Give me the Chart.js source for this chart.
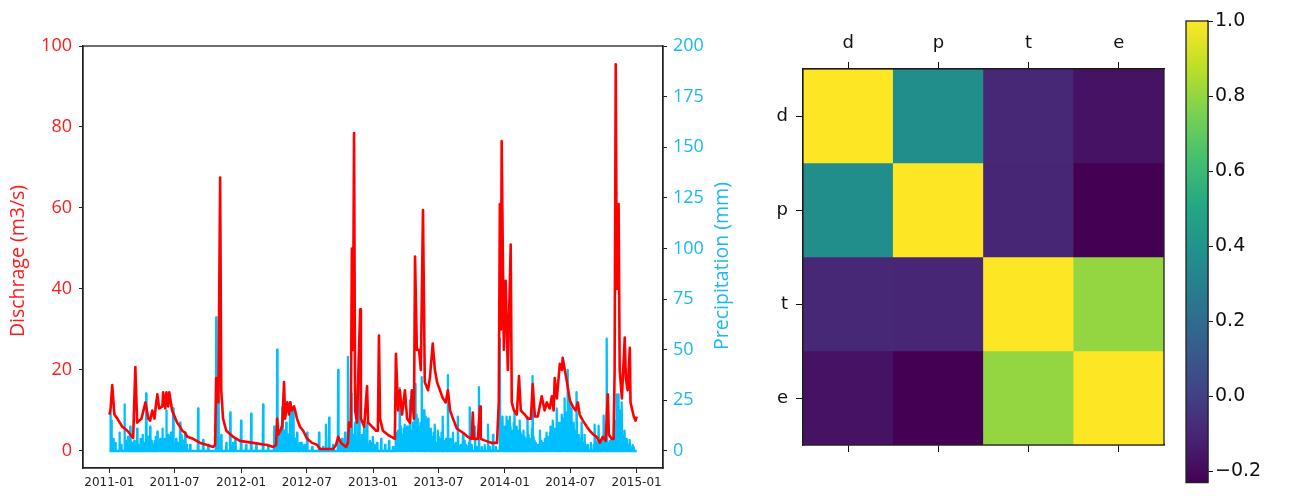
<!DOCTYPE html>
<html>
<head>
<meta charset="utf-8">
<script src="https://cdn.jsdelivr.net/npm/chart.js@4.4.1/dist/chart.umd.min.js"></script>
<style>
  body { margin: 0; background: #fff; width: 1309px; height: 496px; position: relative; overflow: hidden; }
  canvas { position: absolute; top: 0; }
  #tsChart { left: 0; }
  #hmChart { left: 760px; }
  #cbChart { left: 1180px; }
</style>
</head>
<body>
<canvas id="tsChart" width="760" height="496"></canvas>
<canvas id="hmChart" width="420" height="496"></canvas>
<canvas id="cbChart" width="129" height="496"></canvas>
<script>
// days are counted from 2011-01-01
const tickDays = [0, 181, 365, 547, 731, 912, 1096, 1277, 1461];
const tickLabels = ["2011-01", "2011-07", "2012-01", "2012-07", "2013-01", "2013-07", "2014-01", "2014-07", "2015-01"];
const leftTicks = [0, 20, 40, 60, 80, 100];
const rightTicks = [0, 25, 50, 75, 100, 125, 150, 175, 200];

// discharge (m3/s)
const dischargeDays = [0, 3, 8, 14, 22, 36, 50, 66, 72, 77, 89, 100, 108, 113, 119, 125, 130, 133, 138, 147, 149, 155, 158, 163, 166,
  174, 183, 188, 196, 202, 210, 216, 232, 252, 271, 288, 293, 296, 302, 307, 310, 315, 324, 343, 362, 398, 437, 454, 462, 465,
  468, 479, 484, 487, 493, 498, 501, 506, 512, 520, 528, 537, 548, 562, 576, 584, 620, 628, 634, 642, 656, 661, 664, 669, 672,
  675, 678, 681, 686, 695, 697, 706, 714, 717, 728, 739, 744, 747, 750, 758, 772, 791, 794, 800, 805, 811, 819, 825, 833, 838,
  844, 847, 852, 858, 863, 869, 874, 883, 888, 896, 902, 908, 916, 924, 932, 938, 944, 952, 963, 980, 993, 1004, 1007, 1010,
  1021, 1027, 1029, 1043, 1060, 1074, 1079, 1082, 1085, 1087, 1093, 1098, 1104, 1112, 1115, 1121, 1129, 1135, 1140, 1151,
  1159, 1168, 1173, 1179, 1187, 1198, 1206, 1212, 1220, 1226, 1231, 1234, 1240, 1248, 1254, 1256, 1262, 1267, 1276, 1284,
  1292, 1298, 1303, 1312, 1323, 1331, 1342, 1350, 1359, 1367, 1375, 1381, 1384, 1392, 1397, 1400, 1403, 1406, 1411, 1414,
  1420, 1428, 1431, 1436, 1442, 1444, 1453, 1458, 1461];
const dischargeVals = [9, 10, 16.3, 9, 8, 6, 5, 3.2, 20.7, 7, 8, 12, 8, 7.5, 10, 8, 12, 14, 10.5, 11, 14.5, 10.5, 14.5, 11, 14.5,
  10, 8, 7, 6, 5, 4.5, 3.5, 3, 2, 1.5, 1, 1.5, 18, 12, 67.5, 15, 8, 5, 3.5, 2.5, 2, 1.5, 1, 1.5, 8,
  4, 6, 17, 8, 12, 9, 12, 10, 11, 8, 6, 5, 3, 2, 1.5, 0.5, 0.5, 1.5, 3.5, 2, 1, 2, 7, 6, 50,
  25, 78.5, 10, 7, 35, 8, 6, 16, 7, 6, 5, 5, 28.5, 8, 5, 4, 3, 24, 10, 15, 9, 15, 8, 7, 15,
  8, 48, 25, 25, 20, 59.5, 17, 15, 18, 26.5, 20, 17, 15, 13, 12, 15, 10, 8, 5.5, 4.5, 3.5, 3, 9.5, 3,
  3, 11, 3, 2.5, 2, 2, 12, 61, 30, 76.5, 25, 42, 20, 51, 12, 10, 9, 18.5, 10, 9,
  8, 8, 16.5, 8.5, 8.5, 13.5, 10, 12, 10.5, 13.5, 10, 18, 13, 21.5, 20, 23, 20, 17.5, 12.5, 11,
  10, 12, 9, 7.5, 6, 5, 4, 3.5, 2, 3.5, 2.5, 14, 4, 3, 3, 20, 95.5, 40, 61, 20,
  13, 28, 18, 15, 25.5, 12, 8.5, 7.5, 8.5];

// precipitation (mm), rainy days only; sorted by day below
const rainDays = [3, 6, 28, 42, 58, 69, 77, 86, 102, 108, 113, 125, 133, 141, 147, 158, 163, 177, 185, 196, 205, 210, 224, 246,
  260, 274, 296, 302, 310, 324, 335, 343, 349, 365, 379, 393, 407, 426, 440, 457, 465, 470, 479, 484, 490, 495, 501, 506, 509,
  515, 520, 528, 540, 548, 562, 581, 592, 600, 609, 620, 634, 642, 653, 661, 667, 672, 681, 692, 700, 706, 714, 722, 730, 742,
  753, 764, 775, 786, 797, 805, 811, 819, 825, 833, 838, 847, 852, 858, 866, 872, 876, 883, 888, 896, 902, 910, 916, 924, 930,
  938, 944, 952, 960, 966, 974, 980, 988, 999, 1004, 1013, 1018, 1024, 1032, 1040, 1049, 1054, 1063, 1071, 1082, 1085, 1090,
  1096, 1101, 1107, 1110, 1115, 1123, 1129, 1137, 1143, 1148, 1154, 1159, 1165, 1173, 1179, 1184, 1193, 1198, 1204, 1212,
  1218, 1223, 1229, 1234, 1240, 1245, 1248, 1254, 1262, 1267, 1270, 1276, 1281, 1287, 1295, 1301, 1309, 1317, 1326, 1334,
  1345, 1350, 1356, 1361, 1370, 1378, 1384, 1392, 1400, 1406, 1411, 1417, 1420, 1428, 1436, 1442, 1447, 1453,
  // smaller showers in the wet spells
  12, 17, 33, 47, 52, 63, 81, 92, 96, 117, 121, 128, 137, 151, 154, 168, 171, 190, 200, 215,
  473, 476, 482, 487, 492, 498, 504, 512, 518, 524, 532,
  645, 657, 664, 670, 675, 678, 684, 688, 695, 703, 710, 718, 726, 735,
  793, 800, 803, 808, 814, 816, 822, 828, 830, 836, 841, 844, 850, 855, 861, 863, 869, 879, 886, 891, 893, 899, 905, 913,
  919, 921, 927, 933, 941, 947, 955, 963, 970, 977, 984, 992, 996,
  1088, 1093, 1099, 1104, 1112, 1118, 1121, 1126, 1132, 1134, 1140, 1146, 1151, 1157, 1162, 1168, 1171, 1176, 1182, 1188,
  1196, 1201, 1207, 1210, 1215, 1221, 1226, 1232, 1237, 1243, 1251, 1257, 1260, 1265, 1273, 1279, 1284, 1290, 1293, 1298,
  1304, 1307, 1312, 1315, 1320,
  1342, 1348, 1353, 1359, 1364, 1367, 1374, 1381, 1387, 1390, 1395, 1398, 1403, 1409, 1414, 1423, 1426, 1431, 1434, 1439, 1450];
const rainVals = [19, 15, 9, 23, 12, 5, 11, 6, 28.5, 7, 12, 5, 9.5, 6, 11, 20, 8, 21, 6, 14, 5, 9, 3, 21,
  5.5, 3, 66, 37, 8, 4, 19, 4, 6, 15, 3, 18.5, 3, 23, 2, 12, 50, 8, 21.5, 10, 14, 8, 24, 12, 20,
  6, 9, 4, 3, 9, 2, 9, 2, 13, 16.5, 3, 40, 5, 9, 46.5, 12, 28.5, 14, 55, 8, 12, 14, 5, 7, 4,
  6, 3, 5, 2, 9, 31, 8, 13, 12, 25, 10, 33, 18, 12, 36.5, 20, 17, 16, 8, 7, 13, 10, 6, 17, 5,
  37.5, 6, 9, 4, 17, 3, 8, 3, 21.5, 3, 12, 2, 31.5, 2, 3, 13, 2, 8, 2, 55.5, 10, 17,
  12, 17, 14, 17, 10, 20, 12, 15, 8, 10, 6, 17, 5, 37, 5, 3, 10, 2, 4, 9,
  6, 12, 15, 10, 21, 14, 12, 18, 26, 19, 40, 24, 21, 14, 29, 8, 14, 8, 3, 4,
  13, 3, 12.5, 2, 17.5, 55.5, 4, 6, 10, 28, 28, 20, 24, 10, 3, 5.5, 2, 2,
  6, 4, 3, 5, 7, 4, 3, 8, 4, 5, 3, 7, 4, 5, 6, 5, 9, 4, 8, 3,
  6, 12, 5, 9, 5, 7, 6, 4, 5, 3, 4,
  6, 4, 10, 5, 8, 6, 7, 5, 4, 3, 5, 3, 4, 3,
  6, 10, 5, 12, 7, 11, 6, 8, 5, 9, 14, 8, 12, 16, 10, 14, 12, 9, 6, 11, 5, 9, 4, 7,
  5, 9, 3, 6, 4, 5, 3, 4, 2, 3, 5, 2, 4,
  14, 9, 11, 15, 12, 9, 14, 8, 10, 6, 9, 5, 7, 4, 8, 6, 11, 7, 4, 3,
  5, 3, 6, 4, 7, 9, 6, 11, 8, 9, 14, 16, 12, 14, 15, 11, 8, 10, 7, 5,
  6, 3, 4, 2, 3,
  3, 5, 4, 3, 6, 4, 7, 3, 5, 3, 4, 7, 15, 18, 12, 8, 5, 4, 6, 3, 3];

// correlation matrix
const vars = ["d", "p", "t", "e"];
const corr = [
  [1.00, 0.37, -0.09, -0.17],
  [0.37, 1.00, -0.10, -0.23],
  [-0.09, -0.10, 1.00, 0.80],
  [-0.17, -0.23, 0.80, 1.00]
];
const cbMin = -0.23, cbMax = 1.0;
const cbTicks = [-0.2, 0, 0.2, 0.4, 0.6, 0.8, 1.0];

const viridisStops = ["#440154", "#482475", "#414487", "#355f8d", "#2a788e", "#21918c",
  "#22a884", "#44bf70", "#7ad151", "#bddf26", "#fde725"];

const hex = (h) => [1, 3, 5].map((i) => parseInt(h.substr(i, 2), 16));
const viridis = (t) => {
  t = Math.min(1, Math.max(0, t)) * (viridisStops.length - 1);
  const i = Math.min(Math.floor(t), viridisStops.length - 2);
  const f = t - i;
  const a = hex(viridisStops[i]), b = hex(viridisStops[i + 1]);
  const c = a.map((v, k) => Math.round(v + (b[k] - v) * f));
  return `rgb(${c[0]}, ${c[1]}, ${c[2]})`;
};

// box round the plot area, like matplotlib spines
const frame = {
  id: "frame",
  afterDatasetsDraw(chart) {
    const { ctx, chartArea: a } = chart;
    ctx.save();
    ctx.strokeStyle = "#222";
    ctx.lineWidth = 1.3;
    ctx.strokeRect(a.left, a.top, a.right - a.left, a.bottom - a.top);
    ctx.restore();
  },
};

const sans = "'Open Sans', sans-serif";
const dejavu = "'DejaVu Sans', sans-serif";

// both y titles read bottom to top, as matplotlib draws them
const yTitles = {
  id: "yTitles",
  afterDraw(chart) {
    const ctx = chart.ctx;
    const put = (text, x, y, color) => {
      ctx.save();
      ctx.translate(x, y);
      ctx.rotate(-Math.PI / 2);
      ctx.font = "19.5px " + sans;
      ctx.fillStyle = color;
      ctx.textAlign = "center";
      ctx.textBaseline = "middle";
      ctx.fillText(text, 0, 0);
      ctx.restore();
    };
    put("Dischrage (m3/s)", 18, 261, "#ff1a1a");
    put("Precipitation (mm)", 722, 266, "#1ab8f0");
  },
};

const qPts = dischargeDays.map((d, i) => ({ x: d, y: dischargeVals[i] }));
const rain = rainDays.map((d, i) => [d, rainVals[i]]).sort((a, b) => a[0] - b[0]);
const rainPts = [{ x: 0, y: 0 }];
rain.forEach(([d, v]) => {
  rainPts.push({ x: d - 1, y: 0 }, { x: d, y: v }, { x: d + 1, y: 0 });
});
rainPts.push({ x: 1461, y: 0 });

new Chart(document.getElementById("tsChart"), {
  type: "line",
  data: {
    datasets: [
      { data: qPts, yAxisID: "y", borderColor: "#ff0000", borderWidth: 2.6, pointRadius: 0, borderJoinStyle: "round" },
      { data: rainPts, yAxisID: "y1", borderColor: "#00bfff", borderWidth: 2.3, pointRadius: 0, borderJoinStyle: "round" },
    ],
  },
  options: {
    responsive: false,
    animation: false,
    events: [],
    layout: { padding: { top: 46, left: 0, right: 0, bottom: 0 } },
    plugins: { legend: { display: false }, tooltip: { enabled: false } },
    scales: {
      x: {
        type: "linear",
        min: -73,
        max: 1534,
        afterFit: (s) => { s.height = 28; },
        afterBuildTicks: (s) => { s.ticks = tickDays.map((v) => ({ value: v })); },
        ticks: {
          callback: (v, i) => tickLabels[i],
          font: { family: dejavu, size: 12 },
          color: "#222",
          padding: 3,
          maxRotation: 0,
          autoSkip: false,
        },
        grid: { drawOnChartArea: false, tickLength: 5, color: "#222" },
        border: { color: "#222", width: 1.3 },
      },
      y: {
        position: "left",
        min: -4.2,
        max: 100,
        afterFit: (s) => { s.width = 83; },
        afterBuildTicks: (s) => { s.ticks = leftTicks.map((v) => ({ value: v })); },
        ticks: { color: "#ff1a1a", font: { family: sans, size: 18 }, padding: 7 },
        grid: { drawOnChartArea: false, tickLength: 4, color: "#222" },
        border: { color: "#222", width: 1.3 },
      },
      y1: {
        position: "right",
        min: -8.4,
        max: 200,
        afterFit: (s) => { s.width = 97; },
        afterBuildTicks: (s) => { s.ticks = rightTicks.map((v) => ({ value: v })); },
        ticks: { color: "#1ab8f0", font: { family: sans, size: 18 }, padding: 6 },
        grid: { drawOnChartArea: false, tickLength: 4, color: "#222" },
        border: { color: "#222", width: 1.3 },
      },
    },
  },
  plugins: [frame, yTitles],
});

// heatmap: one stacked bar dataset per row
new Chart(document.getElementById("hmChart"), {
  type: "bar",
  data: {
    labels: vars,
    datasets: corr.map((row) => ({
      data: vars.map(() => 1),
      backgroundColor: row.map((v) => viridis((v - cbMin) / (cbMax - cbMin))),
      borderWidth: 0,
      barPercentage: 1,
      categoryPercentage: 1,
    })),
  },
  options: {
    responsive: false,
    animation: false,
    events: [],
    layout: { padding: { top: 0, left: 0, right: 16, bottom: 0 } },
    plugins: { legend: { display: false }, tooltip: { enabled: false } },
    scales: {
      x: {
        position: "top",
        stacked: true,
        afterFit: (s) => { s.height = 69; },
        ticks: { font: { family: dejavu, size: 18 }, color: "#111", padding: 8 },
        grid: { drawOnChartArea: false, offset: false, tickLength: 7, color: "#111" },
        border: { color: "#111", width: 1.3 },
      },
      xb: {
        type: "category",
        position: "bottom",
        afterFit: (s) => { s.height = 51; },
        ticks: { callback: () => "" },
        grid: { drawOnChartArea: false, offset: false, tickLength: 7, color: "#111" },
        border: { color: "#111", width: 1.3 },
      },
      y: {
        stacked: true,
        reverse: true,
        min: 0,
        max: 4,
        afterFit: (s) => { s.width = 43; },
        afterBuildTicks: (s) => { s.ticks = [0.5, 1.5, 2.5, 3.5].map((v) => ({ value: v })); },
        ticks: { callback: (v, i) => vars[i], font: { family: dejavu, size: 18 }, color: "#111", padding: 8 },
        grid: { drawOnChartArea: false, tickLength: 7, color: "#111" },
        border: { color: "#111", width: 1.3 },
      },
    },
  },
  plugins: [frame],
});

// colorbar
new Chart(document.getElementById("cbChart"), {
  type: "bar",
  data: {
    labels: [""],
    datasets: [{
      data: [[cbMin, cbMax]],
      borderWidth: 0,
      barPercentage: 1,
      categoryPercentage: 1,
      backgroundColor: (c) => {
        const a = c.chart.chartArea;
        if (!a) return "#21918c";
        const g = c.chart.ctx.createLinearGradient(0, a.bottom, 0, a.top);
        viridisStops.forEach((col, i) => g.addColorStop(i / (viridisStops.length - 1), col));
        return g;
      },
    }],
  },
  options: {
    responsive: false,
    animation: false,
    events: [],
    layout: { padding: { top: 21, left: 6, right: 0, bottom: 4 } },
    plugins: { legend: { display: false }, tooltip: { enabled: false } },
    scales: {
      x: { display: false },
      y: {
        position: "right",
        min: cbMin,
        max: cbMax,
        afterFit: (s) => { s.width = 101; },
        afterBuildTicks: (s) => { s.ticks = cbTicks.map((v) => ({ value: v })); },
        ticks: {
          callback: (v, i) => (cbTicks[i] < 0 ? "\u2212" + Math.abs(cbTicks[i]).toFixed(1) : cbTicks[i].toFixed(1)),
          font: { family: dejavu, size: 19 },
          color: "#111",
          padding: 2,
        },
        grid: { drawOnChartArea: false, tickLength: 5, color: "#111" },
        border: { color: "#111", width: 1.3 },
      },
    },
  },
  plugins: [frame],
});
</script>
</body>
</html>
